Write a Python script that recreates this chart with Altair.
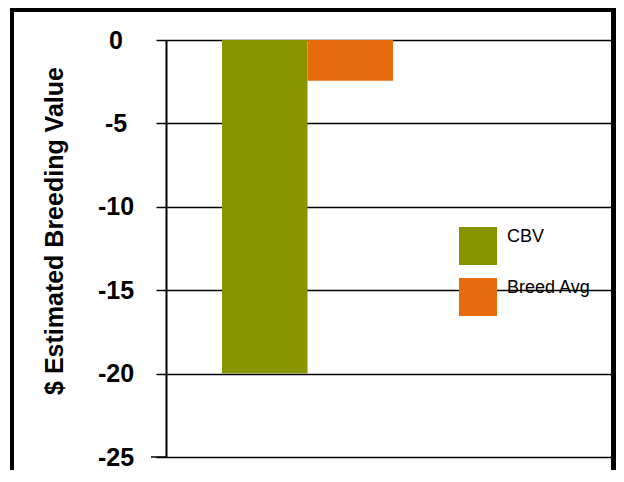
import altair as alt
import pandas as pd

group = ["Sire"]
series = ["CBV", "Breed Avg"]
values = [-20, -2.45]
colors = ["#889400", "#E86C0D"]
y_ticks = [0, -5, -10, -15, -20, -25]
y_min = -25

df = pd.DataFrame({"group": group * len(series), "series": series, "value": values})
dummy = pd.DataFrame({"d": [0]})

FONT = "Liberation Sans, Arial, sans-serif"

bars = alt.Chart(df).mark_bar().encode(
    x=alt.X(
        "group:N",
        scale=alt.Scale(paddingInner=0, paddingOuter=0.801, align=0.2044),
        axis=None,
    ),
    xOffset=alt.XOffset(
        "series:N",
        sort=series,
        scale=alt.Scale(paddingInner=0, paddingOuter=0),
    ),
    y=alt.Y(
        "value:Q",
        scale=alt.Scale(domain=[y_min, 0], nice=False, zero=True),
        axis=alt.Axis(
            values=y_ticks,
            title="$ Estimated Breeding Value",
            titleFont=FONT,
            titleFontSize=25,
            titleFontWeight="bold",
            titleColor="black",
            titleAngle=270,
            titleAlign="center",
            titleBaseline="alphabetic",
            titleX=-104,
            titleY=190.5,
            labelFont=FONT,
            labelFontSize=25,
            labelFontWeight="bold",
            labelColor="black",
            labelAlign="center",
            labelBaseline="middle",
            labelPadding=40.5,
            labelExpr="'' + datum.value",
            tickSize=10,
            tickColor="black",
            tickWidth=1.5,
            domainColor="black",
            domainWidth=2,
            grid=True,
            gridColor="black",
            gridWidth=1.5,
            gridOpacity=1,
        ),
    ),
    color=alt.Color(
        "series:N",
        sort=series,
        scale=alt.Scale(domain=series, range=colors),
        legend=alt.Legend(
            title=None,
            orient="none",
            legendX=293,
            legendY=187,
            padding=0,
            symbolType="square",
            symbolSize=1444,
            symbolStrokeWidth=0,
            symbolOpacity=1,
            rowPadding=13,
            labelOffset=10,
            labelFont=FONT,
            labelFontSize=18,
            labelColor="black",
            labelBaseline="bottom",
        ),
    ),
)

base_ext = alt.Chart(dummy).mark_rule(color="black", strokeWidth=1.5).encode(
    y=alt.datum(y_min), x=alt.value(-15), x2=alt.value(0)
)

left_border = alt.Chart(dummy).mark_rect(color="black").encode(
    x=alt.value(-156), x2=alt.value(-152), y=alt.value(-32), y2=alt.value(440)
)
top_border = alt.Chart(dummy).mark_rect(color="black").encode(
    x=alt.value(-156), x2=alt.value(450), y=alt.value(-32), y2=alt.value(-28)
)
right_border = alt.Chart(dummy).mark_rect(color="black").encode(
    x=alt.value(445), x2=alt.value(450), y=alt.value(-32), y2=alt.value(440)
)

chart = alt.layer(bars, base_ext, left_border, top_border, right_border).properties(
    width=445,
    height=417,
    autosize=alt.AutoSizeParams(type="none"),
    padding={"left": 158, "top": 32, "right": 5, "bottom": 13},
    background="white",
).configure_view(stroke=None)

chart.save("out.html", embed_options={"renderer": "svg", "actions": False})
